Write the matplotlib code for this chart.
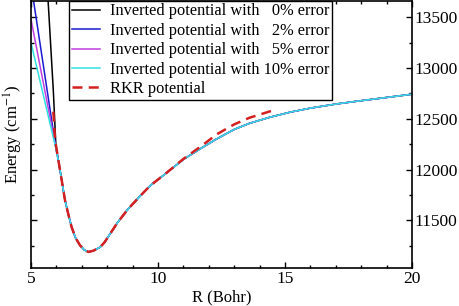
import numpy as np
import matplotlib
matplotlib.use('Agg')
import matplotlib.pyplot as plt
from matplotlib.ticker import MultipleLocator

# shared part of the inverted potentials (all four overlap here)
R_common = [6.1, 6.21, 6.34, 6.47, 6.6, 6.75, 6.93, 7.1, 7.26, 7.45, 7.72, 7.9,
            8.11, 8.4, 8.8, 9.3, 9.7, 10.3, 11.0, 11.7, 12.3, 13.0, 13.6, 14.4,
            15.2, 16.0, 17.0, 17.8, 19.0, 20.0]
E_common = [12060, 11894, 11697, 11560, 11434, 11330, 11254, 11208, 11189, 11200,
            11235, 11285, 11365, 11475, 11605, 11740, 11843, 11960, 12100, 12210,
            12300, 12395, 12455, 12515, 12565, 12605, 12645, 12672, 12710, 12742]

# inner walls, different for each error level
R_wall_0 = [5.67, 5.88, 5.98]
E_wall_0 = [13680, 12775, 12240]
R_wall_2 = [5.09, 5.97]
E_wall_2 = [13680, 12230]
R_wall_5 = [5.0, 5.97]
E_wall_5 = [13480, 12230]
R_wall_10 = [5.0, 5.96]
E_wall_10 = [13250, 12230]

# RKR potential
R_rkr = [5.88, 5.95, 6.1, 6.21, 6.34, 6.47, 6.6, 6.75, 6.93, 7.1, 7.26, 7.45,
         7.72, 7.9, 8.11, 8.4, 8.8, 9.3, 9.7, 10.3, 11.0, 11.7, 12.3, 13.0, 13.6,
         14.47]
E_rkr = [12570, 12290, 12060, 11894, 11697, 11560, 11434, 11330, 11254, 11208,
         11189, 11200, 11235, 11285, 11365, 11475, 11605, 11740, 11843, 11960,
         12105, 12230, 12345, 12445, 12510, 12578]

labels = ["Inverted potential with   0% error",
          "Inverted potential with   2% error",
          "Inverted potential with   5% error",
          "Inverted potential with 10% error",
          "RKR potential"]
colors = ["black", "#1a1ad0", "#c040e0", "#30e0e0"]

plt.rcParams['font.family'] = ['Liberation Serif', 'DejaVu Serif']
plt.rcParams['font.size'] = 12
plt.rcParams['mathtext.fontset'] = 'stix'

fig = plt.figure(figsize=(4.59, 3.06), dpi=100)
ax = fig.add_axes([0.0675, 0.124, 0.83, 0.8727])

walls = [(R_wall_0, E_wall_0), (R_wall_2, E_wall_2),
         (R_wall_5, E_wall_5), (R_wall_10, E_wall_10)]
for (rw, ew), c, lab in zip(walls, colors, labels[:4]):
    ax.plot(rw + R_common, ew + E_common, color=c, lw=1.1, label=lab)
ax.plot(R_rkr, E_rkr, color="#d42020", lw=1.8, dashes=(4, 2.5), label=labels[4])

ax.set_xlim(5, 20)
ax.set_ylim(11030, 13660)
ax.xaxis.set_major_locator(MultipleLocator(5))
ax.xaxis.set_minor_locator(MultipleLocator(1))
ax.yaxis.set_major_locator(MultipleLocator(500))
ax.yaxis.set_minor_locator(MultipleLocator(250))
ax.tick_params(which='both', direction='in', top=True, right=True, left=True,
               labelleft=False, labelright=True, width=1.0)
ax.tick_params(which='major', length=4, pad=2, labelsize=12.5)
ax.tick_params(which='minor', length=2.5)
for s in ax.spines.values():
    s.set_linewidth(1.2)

ax.set_xlabel("R (Bohr)", labelpad=2)
ax.set_ylabel("Energy (cm$^{-1}$)", labelpad=4)

lgd = ax.legend(loc='upper left', bbox_to_anchor=(0.1, 1.0), borderaxespad=0.,
                fancybox=False, framealpha=1, edgecolor='black', fontsize=11.8,
                handlelength=1.75, labelspacing=0.21, borderpad=0.15,
                handletextpad=0.6)
lgd.get_frame().set_linewidth(1.0)

fig.savefig('out.png', dpi=100)
